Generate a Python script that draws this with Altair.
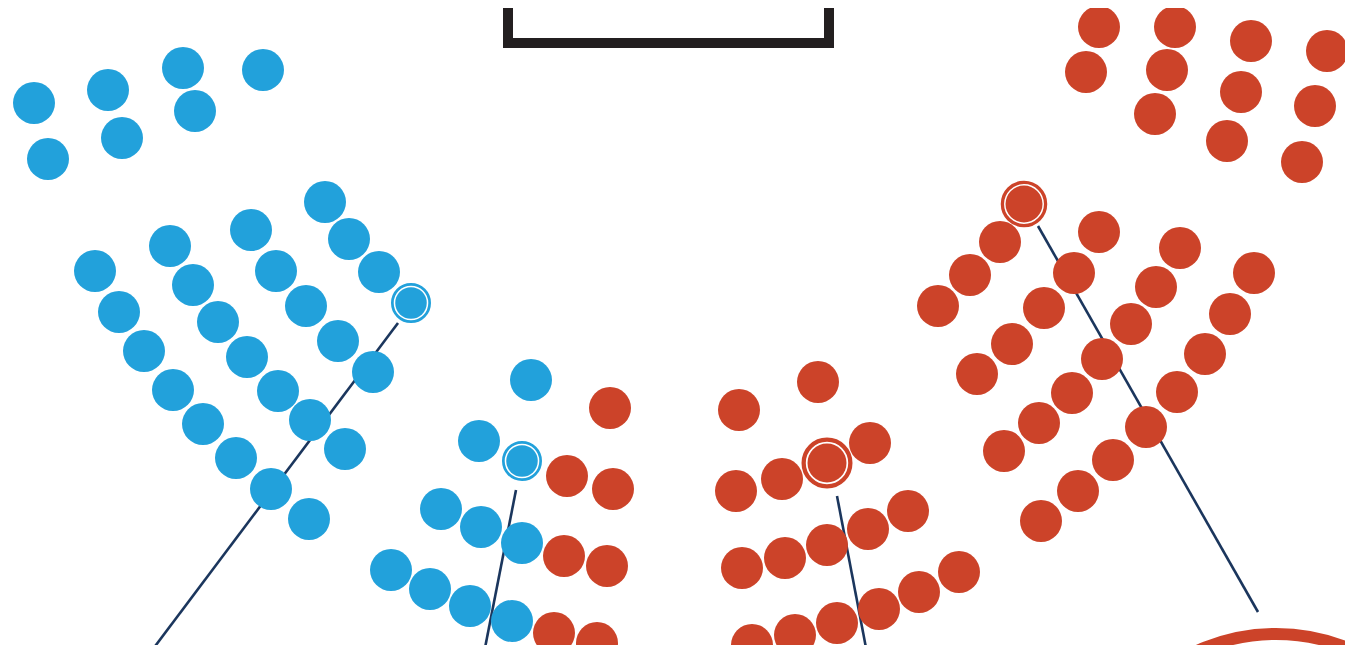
import altair as alt
import pandas as pd

# ---- data (pixel-space positions) ----
blue_x = [34, 108, 183, 263, 48, 122, 195,
          95, 170, 251, 325, 119, 193, 276, 349, 144, 218, 306, 379,
          173, 247, 338, 203, 278, 373, 236, 310, 271, 345, 309,
          531, 479, 441, 481, 522, 391, 430, 470, 512]
blue_y = [103, 90, 68, 70, 159, 138, 111,
          271, 246, 230, 202, 312, 285, 271, 239, 351, 322, 306, 272,
          390, 357, 341, 424, 391, 372, 458, 420, 489, 449, 519,
          380, 441, 509, 527, 543, 570, 589, 606, 621]

red_x = [610, 567, 613, 564, 607, 554, 597,
         739, 818, 870, 736, 782, 908, 868, 827, 742, 785, 959, 919, 879, 837, 752, 795,
         1000, 1099, 1180, 1254, 970, 1074, 1156, 1230, 938, 1044, 1131, 1205,
         1012, 1102, 1177, 977, 1072, 1146, 1039, 1113, 1004, 1078, 1041,
         1099, 1175, 1251, 1327, 1086, 1167, 1241, 1315, 1155, 1227, 1302]
red_y = [408, 476, 489, 556, 566, 633, 643,
         410, 382, 443, 491, 479, 511, 529, 545, 568, 558, 572, 592, 609, 623, 645, 635,
         242, 232, 248, 273, 275, 273, 287, 314, 306, 308, 324, 354,
         344, 359, 392, 374, 393, 427, 423, 460, 451, 491, 521,
         27, 27, 41, 51, 72, 70, 92, 106, 114, 141, 162]

hl_x = [411, 522, 827, 1024]
hl_y = [303, 461, 463, 204]
hl_party = ["blue", "blue", "red", "red"]

seg_x1 = [398, 516, 837, 1038]
seg_y1 = [323, 490, 496, 226]
seg_x2 = [150, 484, 867, 1258]
seg_y2 = [653, 653, 653, 612]

frame_x1, frame_x2, frame_top, frame_bottom = 508, 829, -60, 43
arc_cx, arc_cy = 1276, 825

# ---- styles ----
BLUE = "#22a1db"
RED = "#cc4329"
NAVY = "#1b365d"
DARK = "#231f20"
DOT_D = 42
ring_d = [37.3, 37.3, 46.7, 43.2]
ring_w = [2.7, 2.7, 4.3, 3.3]
inner_d = [31.5, 31.5, 39, 37]

W, H = 1337, 637
XS = alt.Scale(domain=[8, 8 + W], nice=False, zero=False)
YS = alt.Scale(domain=[8 + H, 8], nice=False, zero=False)

dots = pd.DataFrame({
    "x": blue_x + red_x,
    "y": blue_y + red_y,
    "party": ["blue"] * len(blue_x) + ["red"] * len(red_x),
})
hl = pd.DataFrame({"x": hl_x, "y": hl_y, "party": hl_party,
                   "rs": [d * d for d in ring_d], "rw": ring_w,
                   "is": [d * d for d in inner_d]})
segs = pd.DataFrame({"x": seg_x1, "y": seg_y1, "x2": seg_x2, "y2": seg_y2})
frame = pd.DataFrame({"x": [frame_x1], "x2": [frame_x2], "y": [frame_top], "y2": [frame_bottom]})
arc = pd.DataFrame({"x": [arc_cx], "y": [arc_cy]})

color = alt.Color("party:N", scale=alt.Scale(domain=["blue", "red"], range=[BLUE, RED]), legend=None)

def X(f="x"):
    return alt.X(f"{f}:Q", scale=XS, axis=None)

def Y(f="y"):
    return alt.Y(f"{f}:Q", scale=YS, axis=None)

frame_layer = alt.Chart(frame).mark_rect(fill=None, stroke=DARK, strokeWidth=10, clip=True).encode(
    x=X(), x2="x2:Q", y=Y(), y2="y2:Q")

arc_layer = alt.Chart(arc).mark_point(shape="circle", filled=False, stroke=RED, strokeWidth=12,
                                      size=382 * 382, opacity=1, clip=True).encode(x=X(), y=Y())

seg_layer = alt.Chart(segs).mark_rule(color=NAVY, strokeWidth=2.6, clip=True).encode(
    x=X(), y=Y(), x2="x2:Q", y2="y2:Q")

dot_layer = alt.Chart(dots).mark_circle(size=DOT_D * DOT_D, opacity=1, clip=True).encode(
    x=X(), y=Y(), color=color)

ring_layer = alt.Chart(hl).mark_point(shape="circle", filled=False, opacity=1, clip=True).encode(
    x=X(), y=Y(), stroke=color,
    size=alt.Size("rs:Q", scale=None, legend=None),
    strokeWidth=alt.StrokeWidth("rw:Q", scale=None, legend=None))

inner_layer = alt.Chart(hl).mark_circle(opacity=1, clip=True).encode(
    x=X(), y=Y(), color=color,
    size=alt.Size("is:Q", scale=None, legend=None))

chart = alt.layer(frame_layer, arc_layer, seg_layer, dot_layer, ring_layer, inner_layer).properties(
    width=W, height=H, padding=0, autosize=alt.AutoSizeParams(type="none"),
    background="white"
).configure_view(stroke=None)

chart.save("out.html", embed_options={"renderer": "svg", "actions": False})
